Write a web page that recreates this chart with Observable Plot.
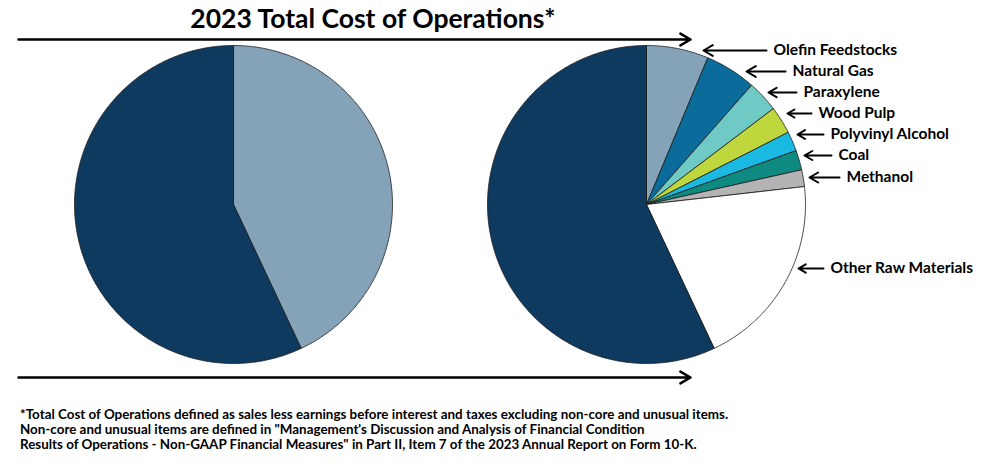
<!DOCTYPE html>
<html><head><meta charset="utf-8">
<script src="https://cdn.jsdelivr.net/npm/d3@7"></script>
<script src="https://cdn.jsdelivr.net/npm/@observablehq/plot@0.6"></script>
<style>
body{margin:0;background:#fff;}
#wrap{position:relative;width:988px;height:470px;overflow:hidden;font-family:Lato,"Open Sans",sans-serif;color:#000;}
#title{position:absolute;left:0;width:746px;top:3px;text-align:center;font-weight:bold;font-size:26.5px;line-height:30px;}
#chart{position:absolute;left:0;top:30px;}
#note{position:absolute;left:20px;top:407px;font-size:13.4px;font-weight:bold;line-height:15px;white-space:nowrap;}
</style></head>
<body>
<div id="wrap">
  <div id="title">2023 Total Cost of Operations*</div>
  <div id="chart"></div>
  <div id="note">
    <div>*Total Cost of Operations defined as sales less earnings before interest and taxes excluding non-core and unusual items.</div>
    <div>Non-core and unusual items are defined in "Management's Discussion and Analysis of Financial Condition</div>
    <div>Results of Operations - Non-GAAP Financial Measures" in Part II, Item 7 of the 2023 Annual Report on Form 10-K.</div>
  </div>
</div>
<script>
// ---- data (percent of 2023 total cost of operations) ----
const overviewLabels = ["Raw Materials", "All Other Costs"];
const overviewValues = [43.0, 57.0];
const rawLabels = ["Olefin Feedstocks", "Natural Gas", "Paraxylene", "Wood Pulp", "Polyvinyl Alcohol", "Coal", "Methanol", "Other Raw Materials"];
const rawValues = [6.3, 5.2, 3.2, 2.8, 2.0, 2.0, 1.7, 19.8];
const otherLabel = "All Other Costs";
const otherValue = 57.0;

// ---- styles ----
const navy = "#0e3a5f";
const overviewColors = ["#84a3b9", navy];
const rawColors = ["#84a3b9", "#0b6b9a", "#6fcac6", "#bfd63c", "#1ab9e2", "#0f8a80", "#b4b4b4", "#ffffff"];

// ---- layout ----
const R = 159;
const leftC = {x: 233, y: 204};
const rightC = {x: 646, y: 204};
// label anchor layout (annotation placement): text x, y, arrow tail x, arrow tip x
const labelLayout = {
  "Olefin Feedstocks":   {tx: 773, y: 50,  tail: 766, tip: 703},
  "Natural Gas":         {tx: 792, y: 71,  tail: 785, tip: 746},
  "Paraxylene":          {tx: 803, y: 92,  tail: 796, tip: 768},
  "Wood Pulp":           {tx: 818, y: 113, tail: 811, tip: 787},
  "Polyvinyl Alcohol":   {tx: 830, y: 134, tail: 823, tip: 797},
  "Coal":                {tx: 838, y: 155, tail: 831, tip: 804},
  "Methanol":            {tx: 846, y: 177, tail: 839, tip: 809},
  "Other Raw Materials": {tx: 830, y: 268, tail: 823, tip: 798}
};

function wedges(prefix, labels, values, colors, c, r) {
  const items = labels.map((l, i) => ({l, v: values[i], col: colors[i]}));
  const arcs = d3.pie().sort(null).value(d => d.v)(items);
  const pts = [];
  arcs.forEach((a, j) => {
    const k = prefix + j;
    const col = a.data.col;
    pts.push({k, x: c.x, y: c.y, col});
    const n = Math.max(2, Math.ceil((a.endAngle - a.startAngle) / 0.01));
    for (let i = 0; i <= n; i++) {
      const t = a.startAngle + (a.endAngle - a.startAngle) * i / n;
      pts.push({k, x: c.x + r * Math.sin(t), y: c.y - r * Math.cos(t), col});
    }
    pts.push({k, x: c.x, y: c.y, col});
  });
  return pts;
}

const leftPts = wedges("L", overviewLabels, overviewValues, overviewColors, leftC, R);
const rightPts = wedges("R", [...rawLabels, otherLabel], [...rawValues, otherValue], [...rawColors, navy], rightC, R);

const labels = rawLabels.map(l => ({name: l, ...labelLayout[l]}));
const bigArrows = [{x1: 18, x2: 690, y: 39}, {x1: 18, x2: 690, y: 377}];

const chart = Plot.plot({
  width: 988,
  height: 370,
  margin: 0,
  x: {domain: [0, 988], range: [0, 988], axis: null},
  y: {domain: [30, 400], range: [0, 370], axis: null},
  color: {type: "identity"},
  style: {background: "transparent", fontFamily: "Lato, 'Open Sans', sans-serif"},
  marks: [
    Plot.line(leftPts, {x: "x", y: "y", z: "k", fill: "col", stroke: "#1c1c1c", strokeWidth: 0.8, strokeLinejoin: "round"}),
    Plot.line(rightPts, {x: "x", y: "y", z: "k", fill: "col", stroke: "#1c1c1c", strokeWidth: 0.8, strokeLinejoin: "round"}),
    Plot.arrow(bigArrows, {x1: "x1", x2: "x2", y1: "y", y2: "y", stroke: "#000", strokeWidth: 2.5, headLength: 7, bend: 0}),
    Plot.arrow(labels, {x1: "tail", x2: "tip", y1: "y", y2: "y", stroke: "#000", strokeWidth: 2, headLength: 8, bend: 0}),
    Plot.text(labels, {x: "tx", y: "y", text: "name", textAnchor: "start", fontWeight: "bold", fontSize: 15.5, fill: "#000"})
  ]
});
document.getElementById("chart").appendChild(chart);
</script>
</body></html>
